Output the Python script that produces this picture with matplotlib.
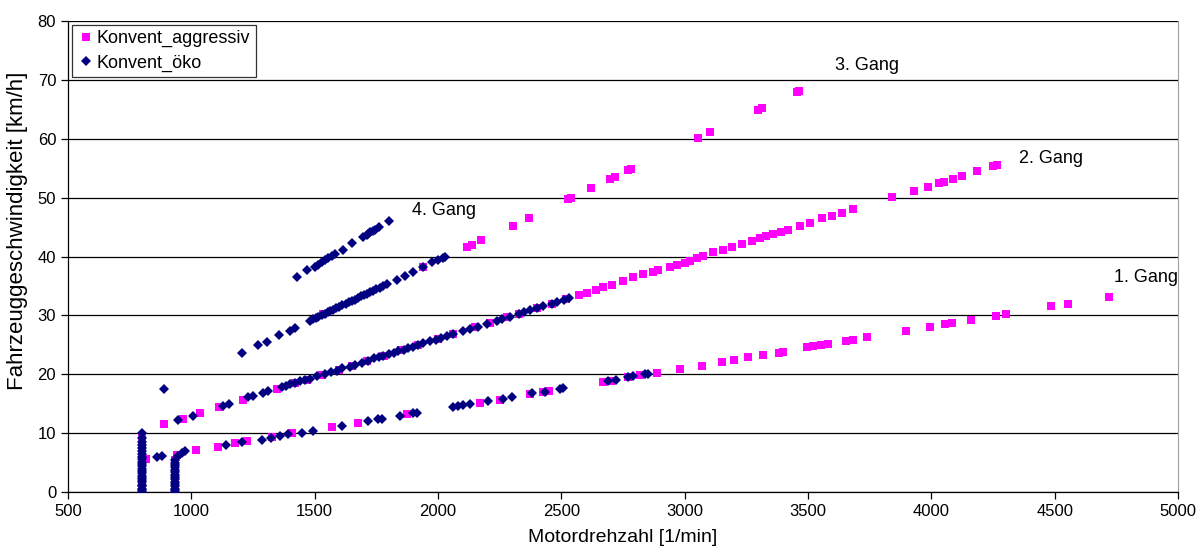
import numpy as np
import matplotlib.pyplot as plt

plt.rcParams['font.family'] = ['Liberation Sans', 'DejaVu Sans']

# --- Konvent_aggressiv (pink squares) ---
agg_idle1_rpm = 800
agg_idle1_v = [0, 0.3, 0.7, 1.0, 1.4, 1.8, 2.2, 2.6, 3.0, 3.4, 3.8, 4.2, 4.6, 5.0,
               5.5, 6.0, 6.5, 7.0, 7.5, 8.0, 8.5, 9.0, 9.3]
agg_idle2_rpm = 934
agg_idle2_v = [0, 0.4, 0.8, 1.2, 1.6, 2.0, 2.5, 3.0, 3.5, 4.0, 4.5, 5.0, 5.5]

agg_g1_rpm = [815, 941, 1018, 1109, 1177, 1224, 1326, 1407, 1569, 1677, 1873, 2170, 2251,
              2373, 2427, 2450, 2670, 2700, 2771, 2819, 2886, 2981, 3069, 3152, 3200, 3258,
              3316, 3384, 3400, 3497, 3521, 3553, 3582, 3654, 3681, 3739, 3897, 3995, 4055,
              4084, 4161, 4262, 4303, 4485, 4554, 4720]
agg_g1_v = [5.7, 6.3, 7.1, 7.7, 8.3, 8.7, 9.4, 10.0, 11.0, 11.8, 13.2, 15.2, 15.7,
            16.6, 17.0, 17.2, 18.7, 18.9, 19.5, 19.9, 20.3, 20.9, 21.5, 22.1, 22.5, 22.9,
            23.3, 23.7, 23.8, 24.6, 24.8, 25.0, 25.2, 25.7, 25.9, 26.3, 27.3, 28.0, 28.5,
            28.7, 29.2, 29.9, 30.2, 31.6, 31.9, 33.1]

agg_g2_rpm = [889, 967, 1035, 1113, 1208, 1346, 1420, 1470, 1530, 1600, 1650, 1710, 1780,
              1850, 1920, 2000, 2060, 2150, 2210, 2280, 2330, 2400, 2460, 2520, 2570, 2603,
              2640, 2670, 2704, 2751, 2792, 2832, 2870, 2893, 2940, 2968, 3000, 3022, 3050,
              3076, 3116, 3157, 3191, 3231, 3272, 3305, 3330, 3359, 3390, 3420, 3467, 3508,
              3555, 3596, 3637, 3684, 3840, 3930, 3986, 4031, 4051, 4088, 4124, 4185, 4250,
              4266]
agg_g2_v = [11.5, 12.5, 13.4, 14.5, 15.7, 17.6, 18.5, 19.1, 19.9, 20.8, 21.5, 22.3, 23.2,
            24.1, 25.0, 26.0, 26.8, 28.0, 28.8, 29.7, 30.3, 31.2, 32.0, 32.8, 33.4, 33.8,
            34.3, 34.8, 35.1, 35.9, 36.5, 37.0, 37.4, 37.7, 38.3, 38.5, 38.9, 39.3, 39.7,
            40.1, 40.7, 41.2, 41.7, 42.1, 42.7, 43.2, 43.5, 43.9, 44.2, 44.6, 45.2, 45.7,
            46.5, 46.9, 47.4, 48.0, 50.1, 51.1, 51.8, 52.5, 52.6, 53.1, 53.7, 54.5, 55.3,
            55.5]

agg_g3_rpm = [1534, 1940, 2119, 2137, 2174, 2303, 2369, 2528, 2540, 2620, 2697, 2718, 2770,
              2782, 3054, 3103, 3297, 3313, 3455, 3463]
agg_g3_v = [30.3, 38.3, 41.6, 42.0, 42.8, 45.2, 46.6, 49.7, 49.9, 51.6, 53.1, 53.5, 54.7,
            54.8, 60.1, 61.1, 64.9, 65.2, 67.9, 68.1]

# --- Konvent_oeko (navy diamonds) ---
oko_idle1_rpm = 800
oko_idle1_v = [0, 0.3, 0.6, 1.0, 1.3, 1.7, 2.0, 2.4, 2.8, 3.2, 3.6, 4.0, 4.4, 4.8, 5.2,
               5.6, 6.0, 6.5, 7.0, 7.5, 8.0, 8.6, 9.2, 10.1]
oko_idle2_rpm = 934
oko_idle2_v = [0, 0.3, 0.6, 1.0, 1.4, 1.8, 2.2, 2.6, 3.0, 3.4, 3.8, 4.2, 4.6, 5.0, 5.4]

oko_extra_rpm = [889]
oko_extra_v = [17.5]

oko_g1_rpm = [860, 880, 947, 961, 974, 1139, 1204, 1285, 1323, 1360, 1391, 1447, 1492, 1610,
              1717, 1758, 1774, 1846, 1900, 1914, 2062, 2080, 2103, 2130, 2204, 2265, 2299,
              2380, 2434, 2495, 2508, 2690, 2722, 2771, 2792, 2839, 2852]
oko_g1_v = [6.0, 6.1, 6.1, 6.7, 7.0, 8.0, 8.5, 8.9, 9.2, 9.5, 9.8, 10.1, 10.4, 11.3,
            12.1, 12.4, 12.4, 13.0, 13.4, 13.4, 14.5, 14.6, 14.8, 14.9, 15.5, 15.9, 16.2,
            16.8, 17.0, 17.6, 17.7, 18.8, 19.1, 19.6, 19.7, 20.0, 20.0]

oko_g2_rpm = [947, 1006, 1130, 1154, 1231, 1251, 1292, 1312, 1366, 1385, 1400, 1420, 1440,
              1460, 1481, 1510, 1540, 1565, 1589, 1610, 1643, 1665, 1690, 1717, 1740, 1760,
              1778, 1800, 1820, 1839, 1860, 1880, 1900, 1920, 1940, 1968, 1990, 2010, 2035,
              2060, 2100, 2130, 2160, 2200, 2238, 2260, 2290, 2330, 2350, 2373, 2400, 2427,
              2460, 2481, 2510, 2530]
oko_g2_v = [12.2, 13.0, 14.6, 14.9, 16.1, 16.3, 16.8, 17.1, 17.9, 18.1, 18.3, 18.5, 18.8,
            19.0, 19.2, 19.7, 20.0, 20.4, 20.6, 21.0, 21.3, 21.6, 22.0, 22.3, 22.7, 22.9,
            23.1, 23.5, 23.7, 23.9, 24.2, 24.5, 24.7, 25.0, 25.3, 25.6, 25.9, 26.2, 26.5,
            26.8, 27.3, 27.7, 28.1, 28.6, 29.1, 29.4, 29.8, 30.3, 30.6, 30.9, 31.2, 31.6,
            32.0, 32.3, 32.7, 32.9]

oko_g3_rpm = [1204, 1269, 1305, 1357, 1400, 1420, 1481, 1494, 1505, 1515, 1528, 1540, 1552,
              1563, 1575, 1588, 1600, 1612, 1625, 1637, 1650, 1662, 1675, 1688, 1700, 1712,
              1725, 1738, 1750, 1763, 1775, 1792, 1832, 1866, 1900, 1940, 1974, 2000, 2021,
              2028]
oko_g3_v = [23.7, 25.0, 25.5, 26.7, 27.4, 27.9, 29.1, 29.4, 29.6, 29.8, 30.1, 30.3, 30.6,
            30.8, 31.0, 31.3, 31.5, 31.8, 32.0, 32.3, 32.5, 32.7, 33.0, 33.3, 33.5, 33.7,
            34.0, 34.2, 34.5, 34.7, 35.0, 35.3, 36.0, 36.7, 37.4, 38.3, 39.1, 39.4, 39.8,
            40.0]

oko_g4_rpm = [1427, 1468, 1501, 1515, 1530, 1542, 1555, 1569, 1582, 1613, 1653, 1697, 1710,
              1717, 1725, 1735, 1745, 1762, 1803]
oko_g4_v = [36.6, 37.7, 38.3, 38.5, 39.0, 39.4, 39.7, 40.1, 40.4, 41.2, 42.3, 43.3, 43.7,
            43.9, 44.1, 44.3, 44.5, 45.0, 46.1]

gear_labels = ['1. Gang', '2. Gang', '3. Gang', '4. Gang']
label_rpm = [4740, 4355, 3609, 1895]
label_v = [36.5, 56.7, 72.5, 47.9]

# combine
agg_x = ([agg_idle1_rpm] * len(agg_idle1_v) + [agg_idle2_rpm] * len(agg_idle2_v)
         + agg_g1_rpm + agg_g2_rpm + agg_g3_rpm)
agg_y = agg_idle1_v + agg_idle2_v + agg_g1_v + agg_g2_v + agg_g3_v
oko_x = ([oko_idle1_rpm] * len(oko_idle1_v) + [oko_idle2_rpm] * len(oko_idle2_v)
         + oko_extra_rpm + oko_g1_rpm + oko_g2_rpm + oko_g3_rpm + oko_g4_rpm)
oko_y = oko_idle1_v + oko_idle2_v + oko_extra_v + oko_g1_v + oko_g2_v + oko_g3_v + oko_g4_v

fig = plt.figure(figsize=(12, 5.53), dpi=100)
ax = fig.add_axes([0.0567, 0.110, 0.925, 0.852])

ax.plot(agg_x, agg_y, linestyle='none', marker='s', markersize=5.8,
        color='#FF00FF', markeredgewidth=0, label='Konvent_aggressiv', zorder=3)
ax.plot(oko_x, oko_y, linestyle='none', marker='D', markersize=4.8,
        color='#000080', markeredgewidth=0, label='Konvent_öko', zorder=4)

for lab, xr, yv in zip(gear_labels, label_rpm, label_v):
    ax.text(xr, yv, lab, fontsize=13, ha='left', va='center')

ax.set_xlim(500, 5000)
ax.set_ylim(0, 80)
ax.set_xticks(np.arange(500, 5001, 500))
ax.set_yticks(np.arange(0, 81, 10))
ax.yaxis.grid(True, color='black', linewidth=0.9)
ax.set_axisbelow(True)
ax.tick_params(axis='both', direction='out', length=5, labelsize=12, width=0.9)

ax.spines['top'].set_visible(False)
ax.spines['right'].set_color('#A0A0A0')
ax.spines['left'].set_linewidth(0.9)
ax.spines['bottom'].set_linewidth(0.9)

ax.set_xlabel('Motordrehzahl [1/min]', fontsize=14, labelpad=7)
ax.set_ylabel('Fahrzeuggeschwindigkeit [km/h]', fontsize=16)
ax.yaxis.set_label_coords(-0.036, 0.554)

leg = ax.legend(loc='upper left', fontsize=13, frameon=True, fancybox=False,
                edgecolor='black', handletextpad=0.1, borderpad=0.3,
                handlelength=1.0, labelspacing=0.4, borderaxespad=0.2)
leg.get_frame().set_linewidth(0.9)

fig.savefig('out.png', dpi=100)
